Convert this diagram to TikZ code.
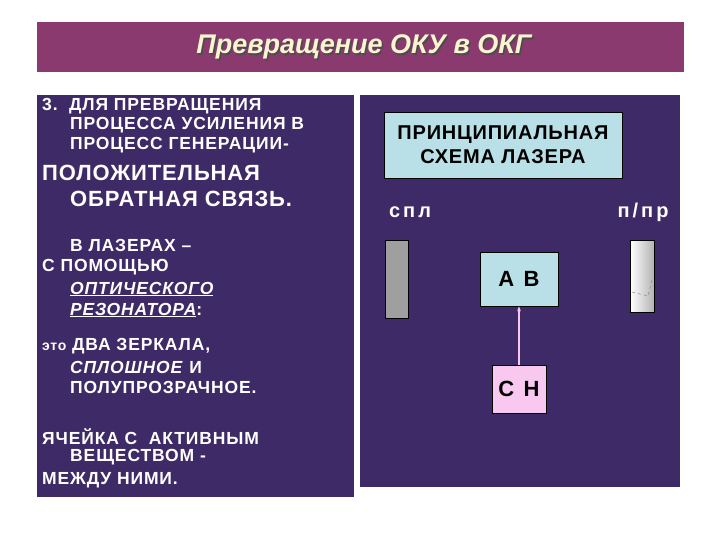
\documentclass[tikz,border=0pt]{standalone}
\usepackage{fontspec}
\setmainfont{Liberation Sans}
\newfontfamily\spaced[LetterSpace=4]{Liberation Sans}
\newfontfamily\lsp[LetterSpace=5]{Liberation Sans}
\newfontfamily\wide[LetterSpace=15]{Liberation Sans}
\usetikzlibrary{arrows.meta}
\definecolor{titlec}{HTML}{8A3A6E}
\definecolor{titletext}{HTML}{FFF4D2}
\definecolor{panelc}{HTML}{3E2A66}
\definecolor{boxblue}{HTML}{B8E0E6}
\definecolor{boxpink}{HTML}{F8C8F0}
\tikzset{
 sm/.style={anchor=west,inner sep=0pt,text=white,font=\lsp\bfseries\fontsize{17.5}{16}\selectfont},
 big/.style={anchor=west,inner sep=0pt,text=white,font=\spaced\bfseries\fontsize{22}{22}\selectfont},
 lbl/.style={draw=black,line width=0.8pt,font=\wide\bfseries\fontsize{22}{22}\selectfont}
}
\begin{document}
\begin{tikzpicture}[x=1pt,y=-1pt]
\useasboundingbox (0,0) rectangle (720,540);
\fill[white] (0,0) rectangle (720,540);
\fill[titlec] (37,22) rectangle (684,72);
\node[text=black!70,font=\bfseries\itshape\fontsize{27}{27}\selectfont] (tsh) at (365.5,48.5) {Превращение ОКУ в ОКГ};
\node[text=titletext,font=\bfseries\itshape\fontsize{27}{27}\selectfont] (title) at (364,47) {Превращение ОКУ в ОКГ};
\fill[panelc] (37,95) rectangle (354,497);
\fill[panelc] (360,95) rectangle (680,487);
% left text
\node[sm] (l1) at (42,106) {3.\ \ ДЛЯ ПРЕВРАЩЕНИЯ};
\node[sm] (l2) at (70,125) {ПРОЦЕССА УСИЛЕНИЯ В};
\node[sm] (l3) at (70,145) {ПРОЦЕСС ГЕНЕРАЦИИ-};
\node[big] (l4) at (42,173) {ПОЛОЖИТЕЛЬНАЯ};
\node[big] (l5) at (70,199) {ОБРАТНАЯ СВЯЗЬ.};
\node[sm] (l6) at (70,245) {В ЛАЗЕРАХ –};
\node[sm] (l7) at (42,267) {С ПОМОЩЬЮ};
\node[sm,font=\lsp\bfseries\itshape\fontsize{17.5}{16}\selectfont] (l8) at (70,289) {\underline{ОПТИЧЕСКОГО}};
\node[sm,font=\lsp\bfseries\itshape\fontsize{17.5}{16}\selectfont] (l9) at (70,310) {\underline{РЕЗОНАТОРА}\textup{:}};
\node[sm] (l10) at (42,346) {{\fontsize{14}{14}\selectfont это} ДВА ЗЕРКАЛА,};
\node[sm] (l11) at (70,367) {\textit{СПЛОШНОЕ} И};
\node[sm] (l12) at (70,387) {ПОЛУПРОЗРАЧНОЕ.};
\node[sm] (l13) at (42,437) {ЯЧЕЙКА С\ \ АКТИВНЫМ};
\node[sm] (l14) at (70,457) {ВЕЩЕСТВОМ -};
\node[sm] (l15) at (42,480) {МЕЖДУ НИМИ.};
% right panel
\node[draw=black,fill=boxblue,minimum width=238pt,minimum height=66pt,align=center,
 font=\spaced\bfseries\fontsize{20}{24}\selectfont] (sch) at (503,145) {ПРИНЦИПИАЛЬНАЯ\\СХЕМА ЛАЗЕРА};
\node[text=white,font=\wide\bfseries\fontsize{20}{20}\selectfont] (spl) at (410,212) {спл};
\node[text=white,font=\wide\bfseries\fontsize{20}{20}\selectfont] (ppr) at (643,212) {п/пр};
\node[draw=black,fill=gray!75,minimum width=23pt,minimum height=78pt,inner sep=0pt] (m1) at (396.5,279) {};
\node[draw=black,left color=white,right color=gray!60,minimum width=24pt,minimum height=72pt,inner sep=0pt] (m2) at (642,276) {};
\draw[gray,dashed] (632,292) -- (648,296) -- (652,280);
\node[lbl,fill=boxblue,minimum width=78pt,minimum height=54pt] (ab) at (519,279) {А В};
\node[lbl,fill=boxpink,minimum width=54pt,minimum height=48pt] (cn) at (519,389) {С Н};
\draw[boxpink,line width=1.5pt,-{Stealth[length=5pt]}] (cn.north) -- (ab.south);
\end{tikzpicture}
\end{document}
